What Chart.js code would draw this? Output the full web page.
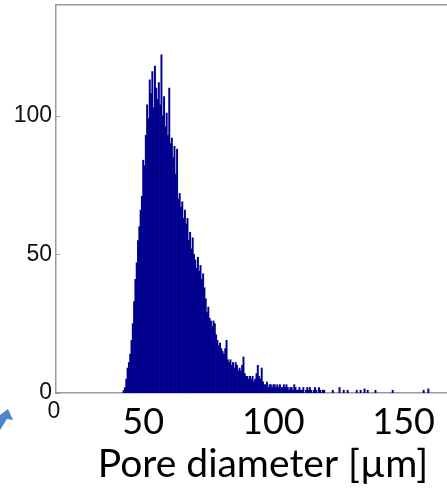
<!DOCTYPE html>
<html lang="en">
<head>
  <meta charset="utf-8">
  <title>pore diameter</title>
  <script src="https://cdn.jsdelivr.net/npm/chart.js@4.4.1/dist/chart.umd.min.js"></script>
  <style>
    html, body { margin: 0; padding: 0; background: #fff; overflow: hidden; }
    #wrap { position: relative; width: 470px; height: 488px; }
    /* corner of the slide arrow, bottom left */
    #arrow {
      position: absolute; left: 0; top: 406px; width: 14px; height: 24px;
      background: #4d87c7;
      clip-path: polygon(8px 3px, 13px 14px, 7px 13px, 0 24px, 0 9px);
    }
  </style>
</head>
<body>
  <div id="wrap">
    <canvas id="poreChart" width="470" height="488"></canvas>
    <div id="arrow"></div>
  </div>

<script>
  // histogram bins, 0.5 um wide, starting at 25.5 um
  const binStart = 25.5;
  const binWidth = 0.5;
  const counts = [
    0, 1, 2, 5, 9, 11, 14, 19, 25, 33,
    41, 47, 55, 60, 66, 71, 84, 82, 93, 104,
    99, 113, 108, 116, 103, 118, 110, 106, 112, 104,
    122, 100, 107, 96, 101, 93, 110, 90, 92, 85,
    89, 79, 88, 70, 72, 67, 69, 63, 66, 61,
    63, 55, 58, 52, 56, 50, 48, 45, 49, 44,
    46, 41, 43, 38, 34, 29, 31, 27, 26, 24,
    26, 25, 21, 19, 17, 18, 16, 15, 14, 16,
    19, 12, 11, 12, 10, 11, 9, 11, 10, 8,
    9, 8, 10, 13, 7, 6, 6, 5, 6, 5,
    6, 4, 5, 7, 10, 6, 5, 9, 4, 3,
    3, 4, 2, 3, 3, 2, 3, 3, 2, 3,
    2, 3, 2, 2, 3, 2, 3, 2, 1, 2,
    2, 1, 3, 2, 1, 1, 2, 1, 1, 2,
    0, 1, 2, 1, 2, 1, 0, 1, 2, 1,
    0, 2, 1, 0, 1, 1
  ];
  // sparse tail beyond 104 um
  const tailDiameters = [106.3, 108.9, 110.5, 112, 115.5, 117, 118.5, 119.7, 122.7, 129.3, 141.2, 143];
  const tailCounts = [1, 2, 1, 1, 1, 1, 1.5, 1, 1, 1, 1, 1.5];

  const xTicks = [50, 100, 150];
  const yTicks = [0, 50, 100];
  const xMax = 159;
  const yMax = 140;

  const points = counts.map((c, i) => ({ x: binStart + i * binWidth, y: c }))
    .concat(tailDiameters.map((d, i) => ({ x: d, y: tailCounts[i] })));

  const axisGrey = '#9a9a9a';

  // small "0" under the origin and inward y ticks, like the original plot
  const extras = {
    id: 'extras',
    afterDraw(chart) {
      const ctx = chart.ctx;
      const xs = chart.scales.x, ys = chart.scales.y;
      ctx.save();
      ctx.strokeStyle = axisGrey;
      ctx.lineWidth = 1;
      ys.ticks.forEach(t => {
        const py = Math.round(ys.getPixelForValue(t.value)) + 0.5;
        ctx.beginPath();
        ctx.moveTo(xs.left, py);
        ctx.lineTo(xs.left + 4, py);
        ctx.stroke();
      });
      ctx.fillStyle = '#111';
      ctx.font = '23px "Liberation Sans"';
      ctx.textAlign = 'center';
      ctx.textBaseline = 'top';
      ctx.fillText('0', xs.getPixelForValue(0) - 2, ys.bottom + 7);
      ctx.restore();
    }
  };

  new Chart('poreChart', {
    type: 'bar',
    data: {
      datasets: [{
        data: points,
        backgroundColor: '#00008e',
        borderWidth: 0,
        barPercentage: 1,
        categoryPercentage: 1
      }]
    },
    options: {
      responsive: false,
      animation: false,
      plugins: { legend: { display: false }, tooltip: { enabled: false } },
      layout: { padding: { top: 5, right: 0, left: 0, bottom: 0 } },
      scales: {
        x: {
          type: 'linear',
          offset: false,
          min: 0,
          max: xMax,
          afterBuildTicks: s => { s.ticks = xTicks.map(v => ({ value: v })); },
          afterFit: s => { s.height = 95; s.paddingLeft = 0; s.paddingRight = 0; },
          grid: { display: false, tickLength: 0 },
          border: { color: axisGrey, width: 1.5 },
          ticks: {
            font: { family: 'Lato', size: 36 },
            color: '#000',
            labelOffset: -43,
            padding: 8,
            maxRotation: 0
          },
          title: {
            display: true,
            text: 'Pore diameter [µm]',
            font: { family: 'Lato', size: 39 },
            color: '#000',
            padding: { top: 0, bottom: 0 }
          }
        },
        x2: {
          type: 'linear',
          position: 'top',
          offset: false,
          min: 0,
          max: xMax,
          afterFit: s => { s.height = 0; },
          grid: { display: false, tickLength: 0 },
          ticks: { display: false },
          border: { color: axisGrey, width: 1.5 }
        },
        y: {
          min: 0,
          max: yMax,
          afterBuildTicks: s => { s.ticks = yTicks.map(v => ({ value: v })); },
          afterFit: s => { s.width = 56; s.paddingTop = 0; s.paddingBottom = 0; },
          grid: { display: false, tickLength: 0 },
          border: { color: axisGrey, width: 1.5 },
          ticks: {
            font: { family: 'Liberation Sans', size: 23 },
            color: '#111',
            padding: 4
          }
        }
      }
    },
    plugins: [extras]
  });
</script>
</body>
</html>
